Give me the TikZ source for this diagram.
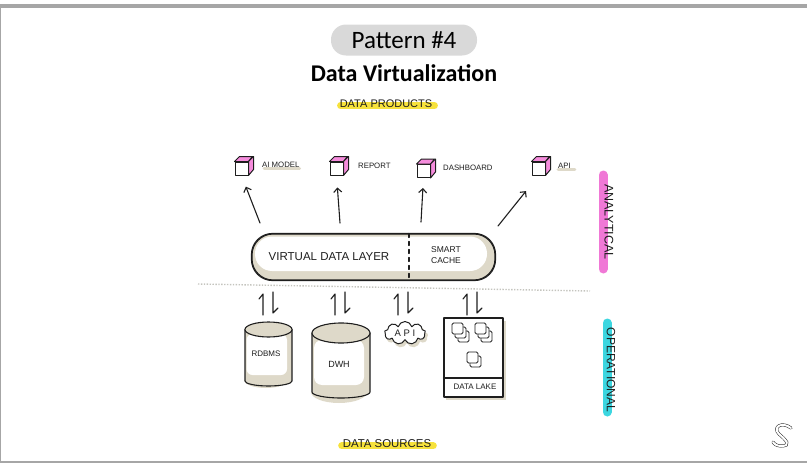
\documentclass[tikz,border=0pt]{standalone}
\usepackage{fontspec}
\setmainfont{Carlito}
\newfontfamily\handfont{Liberation Sans}
\usetikzlibrary{arrows.meta,shapes.symbols,calc,backgrounds}

\definecolor{framegray}{RGB}{166,166,166}
\definecolor{pillgray}{RGB}{217,217,217}
\definecolor{ink}{RGB}{30,30,30}
\definecolor{beige}{RGB}{222,217,201}
\definecolor{cubepink}{RGB}{245,140,220}
\definecolor{hlyellow}{RGB}{247,226,60}
\definecolor{hlpink}{RGB}{240,120,214}
\definecolor{hlcyan}{RGB}{60,214,224}
\definecolor{dotgray}{RGB}{196,196,190}

\newcommand\hand[1]{\handfont\fontsize{#1}{#1}\selectfont}

\begin{document}
\begin{tikzpicture}[x=1pt,y=-1pt,
  ink line/.style={draw=ink,line width=1pt,line join=round,line cap=round},
  cubefront/.style={ink line,fill=white,minimum size=13pt,inner sep=0pt},
  cubeface/.style={ink line,fill=cubepink},
  uparr/.style={ink line,line width=1.1pt,-{Straight Barb[length=4pt,width=8pt]}},
  lbl/.style={text=ink,inner sep=1pt},
  hl/.style={line width=#1,line cap=round},
  doc/.style={ink line,line width=.8pt,fill=white,rounded corners=1.5pt},
  swap mark/.style={ink line,line width=1.1pt}]
\useasboundingbox (0,0) rectangle (807,463);

% page frame
\fill[framegray] (0,4) rectangle (807,8);
\fill[framegray] (0,4) rectangle (1.3,462);
\fill[framegray] (0,460.5) rectangle (807,462.5);

% headings
\node[fill=pillgray,rounded corners=15pt,minimum width=146pt,minimum height=31pt,
      inner sep=0pt,font=\fontsize{25}{30}\selectfont] (pat) at (404,40) {Pattern \#4};
\node[font=\bfseries\fontsize{24}{28}\selectfont,inner sep=0pt] (ttl) at (404,73) {Data Virtualization};
\node[lbl,font=\hand{11}] (prod) at (386,104) {DATA PRODUCTS};

% data products
\newcommand\prodcube[3]{%
  \node[cubefront] (#1) at (#2,#3) {};
  \path[cubeface] (#1.north west) -- ++(5,-5) -- ++(13,0) -- (#1.north east) -- cycle;
  \path[cubeface] (#1.north east) -- ++(5,-5) -- ++(0,13) -- (#1.south east) -- cycle;}
\prodcube{cai}{241.5}{168.5}
\prodcube{crep}{336.5}{168.5}
\prodcube{cdash}{423.5}{171}
\prodcube{capi}{538.5}{168.5}
\node[lbl,font=\hand{7.8},anchor=west] (lai) at (261,165) {AI MODEL};
\node[lbl,font=\hand{7.8},anchor=west] (lrep) at (357,166) {REPORT};
\node[lbl,font=\hand{7.8},anchor=west] (ldash) at (442,168) {DASHBOARD};
\node[lbl,font=\hand{7.8},anchor=west] (lapi) at (557,166) {API};

% separator between analytical and operational
\draw[dotgray,line width=1.4pt,dash pattern=on 1.4pt off 1.5pt] (198,284) -- (590,291);

% virtual data layer
\node[ink line,line width=1.1pt,fill=beige,rounded corners=21pt,minimum width=243pt,
      minimum height=46pt,inner sep=0pt] (vdl) at (373.5,257) {};
\fill[white,rounded corners=17pt] (255,236.5) rectangle (487,271);
\draw[ink line,line width=1.1pt,rounded corners=21pt] (vdl.north west) rectangle (vdl.south east);
\draw[ink line,line width=1.2pt,dash pattern=on 4pt off 4pt] (vdl.north -| 409,0) -- (vdl.south -| 409,0);
\node[lbl,font=\hand{11.5}] (vdltxt) at (329,257) {VIRTUAL DATA LAYER};
\node[lbl,font=\hand{8.5},align=left] (cache) at (446,255) {SMART\\[2pt]CACHE};

% arrows up to the data products
\coordinate (t1) at (260,223);
\coordinate (t2) at (340,223);
\coordinate (t3) at (421,222);
\coordinate (t4) at (498,226);
\draw[uparr,shorten >=12pt] (t1) -- (cai.south);
\draw[uparr,shorten >=12pt] (t2) -- (crep.south);
\draw[uparr,shorten >=10pt] (t3) -- (cdash.south);
\draw[uparr,shorten >=20pt] (t4) -- (capi.south);

% two-way marks between the layer and the sources
\foreach \mx in {263,335,398,467}{
  \draw[swap mark] (\mx,315) -- (\mx,294) -- (\mx-4,299);
  \draw[swap mark] (\mx+10,292) -- (\mx+10,313) -- (\mx+15,308);
}

% RDBMS
\fill[beige] (245,329.5) -- (245,381) arc[start angle=180,end angle=0,x radius=23.5,y radius=5] -- (292,329.5) -- cycle;
\fill[beige] (244,380) arc[start angle=180,end angle=0,x radius=22,y radius=8] -- cycle;
\fill[white,rounded corners=6pt] (246.5,334) rectangle (287,375);
\draw[ink line,line width=1.1pt] (245,329.5) -- (245,381) arc[start angle=180,end angle=0,x radius=23.5,y radius=5] -- (292,329.5);
\draw[ink line,line width=1.1pt,fill=beige] (268.5,329.5) ellipse[x radius=23.5,y radius=7.5];
\node[lbl,font=\hand{8}] (rdbms) at (266,354) {RDBMS};

% DWH
\fill[beige] (312,333) -- (312,392) arc[start angle=180,end angle=0,x radius=29,y radius=6] -- (370,333) -- cycle;
\fill[beige] (311,392) arc[start angle=180,end angle=0,x radius=28,y radius=11] -- cycle;
\fill[white,rounded corners=8pt] (314,340) rectangle (364,385);
\draw[ink line,line width=1.1pt] (312,333) -- (312,392) arc[start angle=180,end angle=0,x radius=29,y radius=6] -- (370,333);
\draw[ink line,line width=1.1pt,fill=beige] (341,333) ellipse[x radius=29,y radius=10];
\node[lbl,font=\hand{9}] (dwh) at (339,364) {DWH};

% API source
\node[cloud,cloud puffs=9,aspect=2,fill=beige,minimum width=42pt,minimum height=24pt,inner sep=0pt] at (407,336) {};
\node[cloud,cloud puffs=9,aspect=2,ink line,fill=white,minimum width=41pt,minimum height=23pt,
      inner sep=0pt,font=\hand{9.5},text=ink] (apisrc) at (405,333) {A P I};

% data lake
\fill[beige] (446,321) rectangle (506,400);
\node[ink line,line width=1.1pt,fill=white,minimum width=59pt,minimum height=79pt,inner sep=0pt] (lake) at (473.5,357.5) {};
\draw[ink line,line width=1.1pt] (lake.west |- 0,378) -- (lake.east |- 0,378);
\foreach \sx/\sy/\n in {452/323/2,475/323/2,467/352/1}{
  \foreach \k in {\n,...,0}{
    \draw[doc] (\sx+3*\k,\sy+4*\k) rectangle ++(11,11);
  }
}
\node[lbl,font=\hand{8}] (lakelbl) at (475,387) {DATA LAKE};

\node[lbl,font=\hand{11.4}] (src) at (387,444) {DATA SOURCES};

% side labels
\node[lbl,font=\hand{12.5},rotate=-90] (anl) at (609,222) {ANALYTICAL};
\node[lbl,font=\hand{12},rotate=-90] (opl) at (611,370) {OPERATIONAL};

% marker highlights
\begin{scope}[on background layer]
  \draw[hlyellow,hl=7pt] ($(prod.south west)+(2,-3.5)$) -- ($(prod.south east)+(1,-3.5)$);
  \draw[hlyellow,hl=7pt] ($(vdltxt.south west)+(0,-4)$) -- ($(vdltxt.south east)+(0,-4)$);
  \draw[hlyellow,hl=7pt] ($(src.south west)+(0,-3.5)$) -- ($(src.south east)+(1,-3.5)$);
  \draw[beige,hl=3pt] ($(lai.south west)+(3,0)$) -- ($(lai.south east)+(-1,0)$);
  \draw[beige,hl=3pt] ($(lapi.south west)+(1,0)$) -- ($(lapi.south east)+(3,0)$);
  \draw[hlpink,hl=9pt] (603,175) -- (603,269);
  \draw[hlcyan,hl=9pt] (607,323) -- (607,412);
\end{scope}

% logo
\draw[ink,line width=.5pt,double=white,double distance=2pt,line cap=round]
  (791,428) .. controls (782,421) and (772,427) .. (779,434)
  .. controls (786,440) and (792,446) .. (781,446)
  .. controls (777,446) and (774,444) .. (773,442);
\end{tikzpicture}
\end{document}
